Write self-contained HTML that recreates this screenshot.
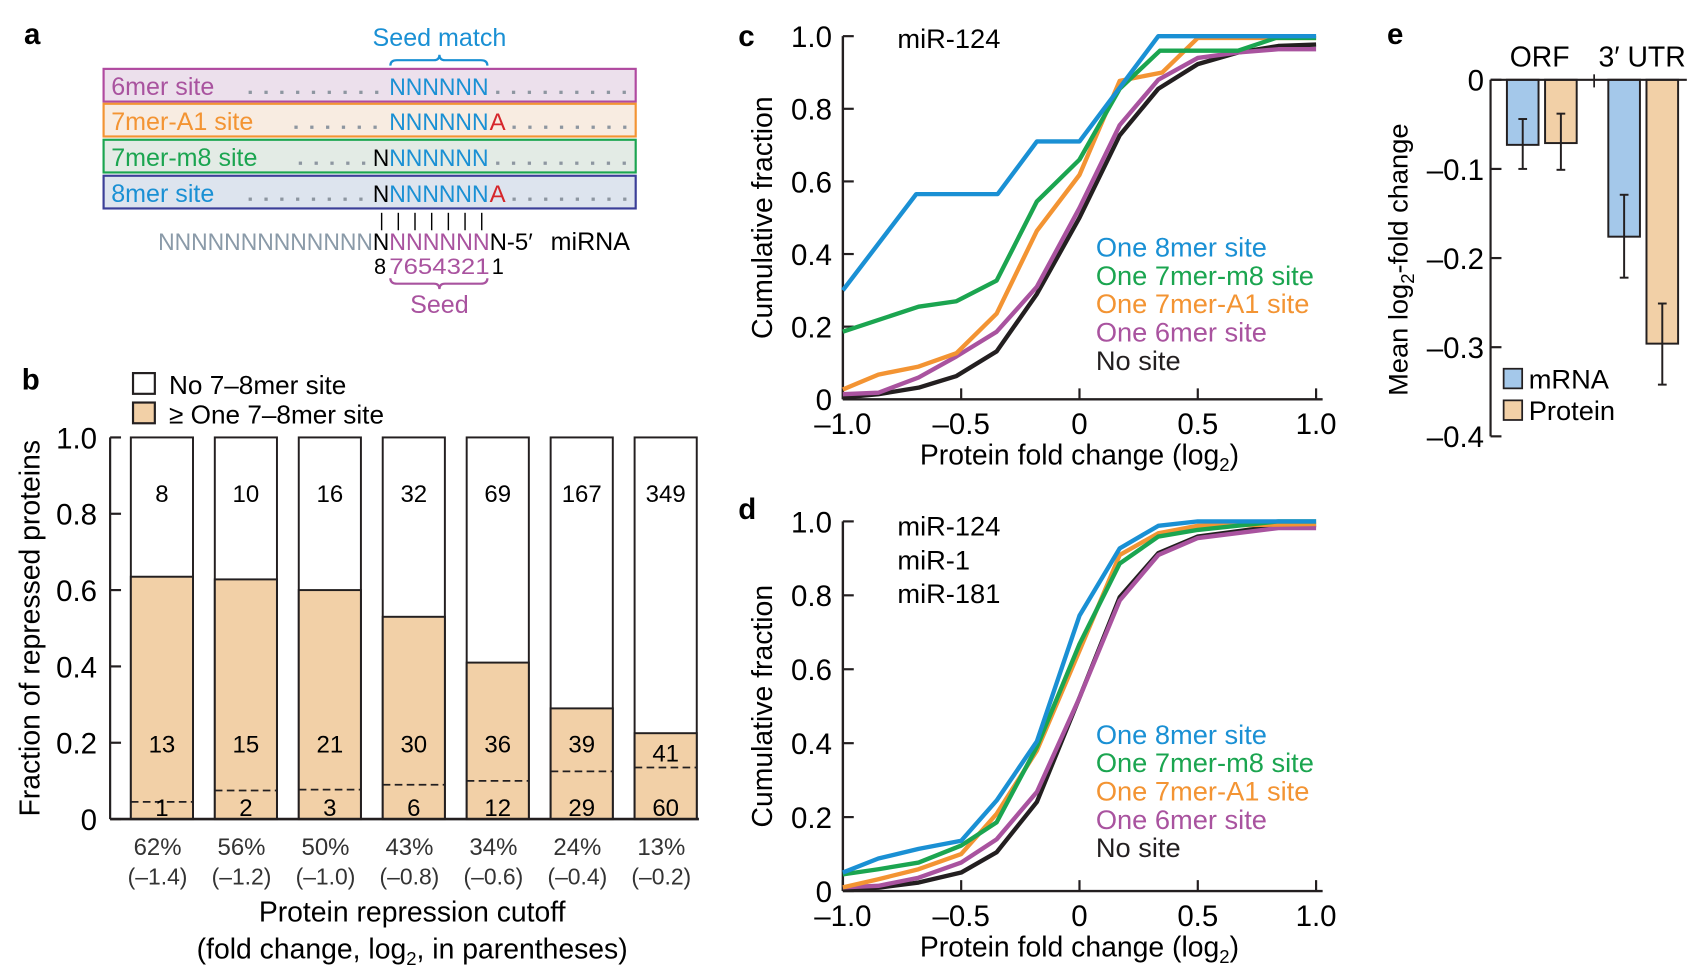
<!DOCTYPE html>
<html><head><meta charset="utf-8">
<style>
html,body{margin:0;padding:0;background:#fff;}
svg{display:block;font-family:"Liberation Sans",Arial,sans-serif;}
</style></head>
<body>
<svg id="fig" width="1701" height="973" viewBox="0 0 1560 892" xmlns="http://www.w3.org/2000/svg">
<rect width="1560" height="892" fill="#fff"/>
<g id="pa"></g>
<g id="pb"></g>
<g id="pc"></g>
<g id="pd"></g>
<g id="pe"></g>
</svg>
<script>
// ---------- Panel b data ----------
const bCategories = ["62%","56%","50%","43%","34%","24%","13%"];
const bCutoffs = ["(–1.4)","(–1.2)","(–1.0)","(–0.8)","(–0.6)","(–0.4)","(–0.2)"];
const bSiteFraction = [0.635,0.628,0.60,0.53,0.41,0.29,0.225];
const bDashFraction = [0.045,0.075,0.077,0.09,0.10,0.125,0.135];
const bNoSiteCounts = ["8","10","16","32","69","167","349"];
const bSiteCounts = ["13","15","21","30","36","39","41"];
const bExpectedCounts = ["1","2","3","6","12","29","60"];
const bTicks = [0,0.2,0.4,0.6,0.8,1.0];
const bTickLabels = ["0","0.2","0.4","0.6","0.8","1.0"];

// ---------- Panel c data ----------
const cfX = [-1,-0.5,0,0.5,1.0];
const cfXLabels = ["–1.0","–0.5","0","0.5","1.0"];
const cfY = [0,0.2,0.4,0.6,0.8,1.0];
const cfYLabels = ["0","0.2","0.4","0.6","0.8","1.0"];
const c8merX = [-1,-0.69,-0.346,-0.18,0,0.333,1];
const c8merY = [0.30,0.565,0.565,0.71,0.71,1.0,1.0];
const c7m8X = [-1,-0.68,-0.52,-0.35,-0.18,0,0.17,0.34,0.67,0.83,1];
const c7m8Y = [0.186,0.255,0.27,0.327,0.545,0.66,0.855,0.96,0.96,0.995,0.995];
const c7a1X = [-1,-0.85,-0.68,-0.52,-0.35,-0.18,0,0.17,0.35,0.5,1];
const c7a1Y = [0.027,0.068,0.09,0.127,0.236,0.464,0.618,0.877,0.9,0.995,0.995];
const c6merX = [-1,-0.85,-0.68,-0.52,-0.35,-0.18,0,0.17,0.333,0.5,0.67,0.84,1];
const c6merY = [0.014,0.018,0.06,0.118,0.186,0.31,0.527,0.755,0.88,0.94,0.955,0.964,0.964];
const cNoneX = [-1,-0.85,-0.68,-0.52,-0.35,-0.18,0,0.17,0.333,0.5,0.67,0.84,1];
const cNoneY = [0.005,0.014,0.032,0.064,0.132,0.29,0.5,0.727,0.855,0.923,0.955,0.973,0.977];

// ---------- Panel d data ----------
const d8merX = [-1,-0.85,-0.68,-0.5,-0.35,-0.18,0,0.17,0.333,0.5,1];
const d8merY = [0.05,0.088,0.114,0.136,0.245,0.405,0.745,0.927,0.988,1.0,1.0];
const d7m8X = [-1,-0.85,-0.68,-0.5,-0.35,-0.18,0,0.17,0.333,0.5,0.84,1];
const d7m8Y = [0.045,0.059,0.077,0.123,0.186,0.39,0.668,0.886,0.959,0.977,1.0,1.0];
const d7a1X = [-1,-0.85,-0.68,-0.5,-0.35,-0.18,0,0.17,0.333,0.5,1];
const d7a1Y = [0.01,0.032,0.059,0.10,0.209,0.38,0.65,0.909,0.968,0.988,0.993];
const d6merX = [-1,-0.85,-0.68,-0.5,-0.35,-0.18,0,0.17,0.333,0.5,0.84,1];
const d6merY = [0.01,0.014,0.036,0.077,0.14,0.268,0.523,0.786,0.909,0.955,0.982,0.982];
const dNoneX = [-1,-0.85,-0.68,-0.5,-0.35,-0.18,0,0.17,0.333,0.5,0.84,1];
const dNoneY = [0.005,0.009,0.023,0.05,0.105,0.241,0.523,0.795,0.914,0.959,0.988,0.99];

// ---------- Panel e data ----------
const eGroups = ["ORF","3′ UTR"];
const eMrna = [-0.073,-0.176];
const eProtein = [-0.071,-0.296];
const eMrnaErrLo = [-0.100,-0.222];
const eMrnaErrHi = [-0.044,-0.129];
const eProtErrLo = [-0.101,-0.342];
const eProtErrHi = [-0.038,-0.251];
const eTicks = [0,-0.1,-0.2,-0.3,-0.4];
const eTickLabels = ["0","–0.1","–0.2","–0.3","–0.4"];

const NS="http://www.w3.org/2000/svg";
const C={blue:"#1a90d4",green:"#1ba550",orange:"#f39433",purple:"#a9539f",black:"#231f20",red:"#d6262b",grey:"#8a9aa8",tan:"#f2d0a7",lblue:"#a4c8ea"};
function el(parent,tag,attrs,text){const e=document.createElementNS(NS,tag);for(const k in attrs)e.setAttribute(k,attrs[k]);if(text!==undefined)e.textContent=text;parent.appendChild(e);return e;}

// ================= Panel a =================
(function(){
const g=document.getElementById('pa');
const t=el(g,'text',{x:22,y:40,'font-size':27,'font-weight':'bold'},'a');


const sm=el(g,'text',{x:403,y:42,'font-size':23,fill:C.blue,'text-anchor':'middle'},'Seed match');


el(g,'path',{d:'M358,60 q0,-5 6,-5 L398,55 q5,0 5,-5 q0,5 5,5 L441,55 q6,0 6,5',fill:'none',stroke:C.blue,'stroke-width':2});
const rows=[
 {name:'6mer site',fill:'#ece0ec',stroke:'#b04aa0',col:C.purple,pre:'',a:false,y:63,labW:118},
 {name:'7mer-A1 site',fill:'#f8ece1',stroke:C.orange,col:C.orange,pre:'',a:true,y:95,labW:160},
 {name:'7mer-m8 site',fill:'#e3ebe5',stroke:C.green,col:C.green,pre:'N',a:false,y:128,labW:164},
 {name:'8mer site',fill:'#dde4ee',stroke:'#3b3f98',col:C.blue,pre:'N',a:true,y:161,labW:118}
];
rows.forEach((r,i)=>{
 const box=el(g,'rect',{x:95,y:r.y,width:488,height:30,fill:r.fill,stroke:r.stroke,'stroke-width':2});
 
 
 const by=r.y+24;
 const lab=el(g,'text',{x:102,y:by,'font-size':23,fill:r.col},r.name);
 
 
 const dotStart=102+r.labW+8, dotEnd=r.pre?340:352;
 for(let x=dotStart;x<dotEnd;x+=14.5){el(g,'rect',{x:x,y:by-4,width:3,height:3,fill:'#8d96a0'});}
 for(let x=r.a?470:455;x<582;x+=14.5){el(g,'rect',{x:x,y:by-4,width:3,height:3,fill:'#8d96a0'});}
 if(r.pre) el(g,'text',{x:342,y:by,'font-size':22,fill:'#000',textLength:15,lengthAdjust:'spacingAndGlyphs'},'N');
 el(g,'text',{x:357,y:by,'font-size':22,fill:C.blue,textLength:91,lengthAdjust:'spacingAndGlyphs'},'NNNNNN');
 if(r.a) el(g,'text',{x:449,y:by,'font-size':22,fill:C.red},'A');
});
for(let i=0;i<7;i++){el(g,'line',{x1:350+i*15.3,y1:195,x2:350+i*15.3,y2:211,stroke:'#000','stroke-width':1.3});}
el(g,'text',{x:145,y:229,'font-size':22,fill:C.grey,textLength:197,lengthAdjust:'spacingAndGlyphs'},'NNNNNNNNNNNNN');
el(g,'text',{x:342,y:229,'font-size':22,fill:'#000',textLength:15,lengthAdjust:'spacingAndGlyphs'},'N');
el(g,'text',{x:357,y:229,'font-size':22,fill:C.purple,textLength:92,lengthAdjust:'spacingAndGlyphs'},'NNNNNN');
el(g,'text',{x:449,y:229,'font-size':22,fill:'#000'},'N-5′');
const mi=el(g,'text',{x:505,y:229,'font-size':23,fill:'#000'},'miRNA');


el(g,'text',{x:343,y:251,'font-size':20,fill:'#000'},'8');
el(g,'text',{x:357,y:251,'font-size':20,fill:C.purple,textLength:92,lengthAdjust:'spacingAndGlyphs'},'7654321');
el(g,'text',{x:451,y:251,'font-size':20,fill:'#000'},'1');
el(g,'path',{d:'M358,255 q0,5 6,5 L398,260 q5,0 5,5 q0,-5 5,-5 L441,260 q6,0 6,-5',fill:'none',stroke:C.purple,'stroke-width':2});
const sd=el(g,'text',{x:403,y:287,'font-size':23,fill:C.purple,'text-anchor':'middle'},'Seed');


})();

// ================= Panel b =================
(function(){
const g=document.getElementById('pb');
const y0=751,y1=401,ax=101,firstX=120,pitch=77.0,bw=57;
const ys=v=>y0+(y1-y0)*v;
const lb=el(g,'text',{x:20,y:357,'font-size':27,'font-weight':'bold'},'b');


const l1=el(g,'rect',{x:122,y:342,width:20,height:19,fill:'#fff',stroke:'#231f20','stroke-width':2});


el(g,'text',{x:155,y:361,'font-size':24},'No 7–8mer site');
const l2=el(g,'rect',{x:122,y:369,width:20,height:19,fill:C.tan,stroke:'#231f20','stroke-width':2});


el(g,'text',{x:155,y:388,'font-size':24},'≥ One 7–8mer site');
bTicks.forEach((v,i)=>{
 el(g,'line',{x1:ax,y1:ys(v),x2:ax+10,y2:ys(v),stroke:'#231f20','stroke-width':2});
 const t=el(g,'text',{x:89,y:ys(v)+10,'font-size':27,'text-anchor':'end'},bTickLabels[i]);
 
 
});
const yt=el(g,'text',{x:0,y:0,'font-size':26,'text-anchor':'middle',transform:'translate(36,576) rotate(-90)'},'Fraction of repressed proteins');


bCategories.forEach((c,i)=>{
 const x=firstX+i*pitch, cx=x+bw/2;
 const w=el(g,'rect',{x:x,y:ys(1),width:bw,height:ys(0)-ys(1),fill:'#fff',stroke:'#231f20','stroke-width':1.8});
 
 
 const s=el(g,'rect',{x:x,y:ys(bSiteFraction[i]),width:bw,height:ys(0)-ys(bSiteFraction[i]),fill:C.tan,stroke:'#231f20','stroke-width':1.8});
 
 
 const d=el(g,'line',{x1:x,y1:ys(bDashFraction[i]),x2:x+bw,y2:ys(bDashFraction[i]),stroke:'#231f20','stroke-width':1.6,'stroke-dasharray':'7,4'});
 
 
 el(g,'text',{x:cx,y:460,'font-size':22,'text-anchor':'middle'},bNoSiteCounts[i]);
 const my=bSiteFraction[i]<0.26?698:690;
 el(g,'text',{x:cx,y:my,'font-size':22,'text-anchor':'middle'},bSiteCounts[i]);
 el(g,'text',{x:cx,y:748,'font-size':22,'text-anchor':'middle'},bExpectedCounts[i]);
 const p=el(g,'text',{x:cx-4,y:784,'font-size':22,'text-anchor':'middle',fill:'#333'},c);
 
 
 el(g,'text',{x:cx-4,y:811,'font-size':21,'text-anchor':'middle',fill:'#333'},bCutoffs[i]);
});
el(g,'line',{x1:ax,y1:ys(1),x2:ax,y2:y0,stroke:'#231f20','stroke-width':2});
el(g,'line',{x1:ax,y1:y0,x2:641,y2:y0,stroke:'#231f20','stroke-width':2.4});
const xt=el(g,'text',{x:378,y:845,'font-size':26,'text-anchor':'middle'},'Protein repression cutoff');


const xt2=el(g,'text',{x:378,y:879,'font-size':26,'text-anchor':'middle'});
xt2.innerHTML='(fold change, log<tspan font-size="17" dy="6">2</tspan><tspan dy="-6">, in parentheses)</tspan>';
})();

// ================= Panels c & d =================
function cdf(gid,y0,y1,letter,labelY,mirs,mirY,legY,series){
 const g=document.getElementById(gid);
 const xL=773,xR=1207;
 const xs=v=>xL+(v+1)/2*(xR-xL), ys=v=>y0+(y1-y0)*v;
 const lt=el(g,'text',{x:677,y:labelY,'font-size':27,'font-weight':'bold'},letter);
 
 
 cfY.forEach((v,i)=>{
  el(g,'line',{x1:xL,y1:ys(v),x2:xL+10,y2:ys(v),stroke:'#231f20','stroke-width':2});
  const t=el(g,'text',{x:763,y:ys(v)+10,'font-size':27,'text-anchor':'end'},cfYLabels[i]);
  
  
 });
 cfX.forEach((v,i)=>{
  el(g,'line',{x1:xs(v),y1:y0,x2:xs(v),y2:y0-10,stroke:'#231f20','stroke-width':2});
  const t=el(g,'text',{x:xs(v),y:y0+32,'font-size':27,'text-anchor':'middle'},cfXLabels[i]);
  
  
 });
 el(g,'line',{x1:xL,y1:ys(1),x2:xL,y2:y0,stroke:'#231f20','stroke-width':2.2});
 el(g,'line',{x1:xL,y1:y0,x2:xR+6,y2:y0,stroke:'#231f20','stroke-width':2.2});
 const yt=el(g,'text',{x:0,y:0,'font-size':26,'text-anchor':'middle',transform:'translate(708,'+((y0+y1)/2)+') rotate(-90)'},'Cumulative fraction');
 
 
 const xt=el(g,'text',{x:990,y:y0+60,'font-size':26,'text-anchor':'middle'});
 xt.innerHTML='Protein fold change (log<tspan font-size="17" dy="6">2</tspan><tspan dy="-6">)</tspan>';
 
 
 mirs.forEach((m,i)=>{
  const t=el(g,'text',{x:823,y:mirY+i*31,'font-size':25},m);
  
  
 });
 series.forEach(s=>{
  const p=el(g,'polyline',{points:s.x.map((v,i)=>xs(v)+','+ys(s.y[i])).join(' '),fill:'none',stroke:s.col,'stroke-width':4,'stroke-linejoin':'round'});
  
  
 });
 series.slice().reverse().forEach((s,j)=>{
  const t=el(g,'text',{x:1005,y:legY+j*26,'font-size':25,fill:s.col},s.label);
  
  
 });
}
cdf('pc',366,33,'c',42,['miR-124'],44,235,[
 {key:'no-site',label:'No site',col:C.black,x:cNoneX,y:cNoneY},
 {key:'6mer',label:'One 6mer site',col:C.purple,x:c6merX,y:c6merY},
 {key:'7mer-a1',label:'One 7mer-A1 site',col:C.orange,x:c7a1X,y:c7a1Y},
 {key:'7mer-m8',label:'One 7mer-m8 site',col:C.green,x:c7m8X,y:c7m8Y},
 {key:'8mer',label:'One 8mer site',col:C.blue,x:c8merX,y:c8merY}
]);
cdf('pd',817,478,'d',476,['miR-124','miR-1','miR-181'],491,682,[
 {key:'no-site',label:'No site',col:C.black,x:dNoneX,y:dNoneY},
 {key:'6mer',label:'One 6mer site',col:C.purple,x:d6merX,y:d6merY},
 {key:'7mer-a1',label:'One 7mer-A1 site',col:C.orange,x:d7a1X,y:d7a1Y},
 {key:'7mer-m8',label:'One 7mer-m8 site',col:C.green,x:d7m8X,y:d7m8Y},
 {key:'8mer',label:'One 8mer site',col:C.blue,x:d8merX,y:d8merY}
]);

// ================= Panel e =================
(function(){
const g=document.getElementById('pe');
const ax=1367,y0=73,yb=400;
const ys=v=>y0+(yb-y0)*(v/-0.4);
const lt=el(g,'text',{x:1272,y:40,'font-size':27,'font-weight':'bold'},'e');


eTicks.forEach((v,i)=>{
 el(g,'line',{x1:ax,y1:ys(v),x2:ax+10,y2:ys(v),stroke:'#231f20','stroke-width':2});
 const t=el(g,'text',{x:1361,y:ys(v)+10,'font-size':27,'text-anchor':'end'},eTickLabels[i]);
 
 
});
const yt=el(g,'text',{x:0,y:0,'font-size':25,'text-anchor':'middle',transform:'translate(1291,238) rotate(-90)'});
yt.innerHTML='Mean log<tspan font-size="17" dy="6">2</tspan><tspan dy="-6">-fold change</tspan>';


const groupX=[1382,1475];
eGroups.forEach((gname,i)=>{
 const gx=groupX[i];
 const lab=el(g,'text',{x:i===0?1412:1506,y:61,'font-size':26,'text-anchor':'middle'},gname);
 
 
 [[eMrna,eMrnaErrLo,eMrnaErrHi,C.lblue,'mrna',0],[eProtein,eProtErrLo,eProtErrHi,C.tan,'protein',35]].forEach(s=>{
  const x=gx+s[5],w=29,v=s[0][i];
  const r=el(g,'rect',{x:x,y:ys(0),width:w,height:ys(v)-ys(0),fill:s[3],stroke:'#231f20','stroke-width':1.8});
  
  
  const cx=x+w/2;
  const e=el(g,'line',{x1:cx,y1:ys(s[1][i]),x2:cx,y2:ys(s[2][i]),stroke:'#231f20','stroke-width':1.8});
  
  
  el(g,'line',{x1:cx-4,y1:ys(s[1][i]),x2:cx+4,y2:ys(s[1][i]),stroke:'#231f20','stroke-width':1.8});
  el(g,'line',{x1:cx-4,y1:ys(s[2][i]),x2:cx+4,y2:ys(s[2][i]),stroke:'#231f20','stroke-width':1.8});
 });
});
el(g,'line',{x1:ax,y1:ys(0),x2:ax,y2:yb,stroke:'#231f20','stroke-width':2});
el(g,'line',{x1:ax,y1:ys(0),x2:1547,y2:ys(0),stroke:'#231f20','stroke-width':2});
el(g,'line',{x1:1462,y1:ys(0)-5,x2:1462,y2:ys(0)+7,stroke:'#231f20','stroke-width':1.6});
const s1=el(g,'rect',{x:1379,y:338,width:17,height:18,fill:C.lblue,stroke:'#231f20','stroke-width':1.6});


el(g,'text',{x:1402,y:356,'font-size':25},'mRNA');
const s2=el(g,'rect',{x:1379,y:367,width:17,height:18,fill:C.tan,stroke:'#231f20','stroke-width':1.6});


el(g,'text',{x:1402,y:385,'font-size':25},'Protein');
})();
</script>
</body></html>
